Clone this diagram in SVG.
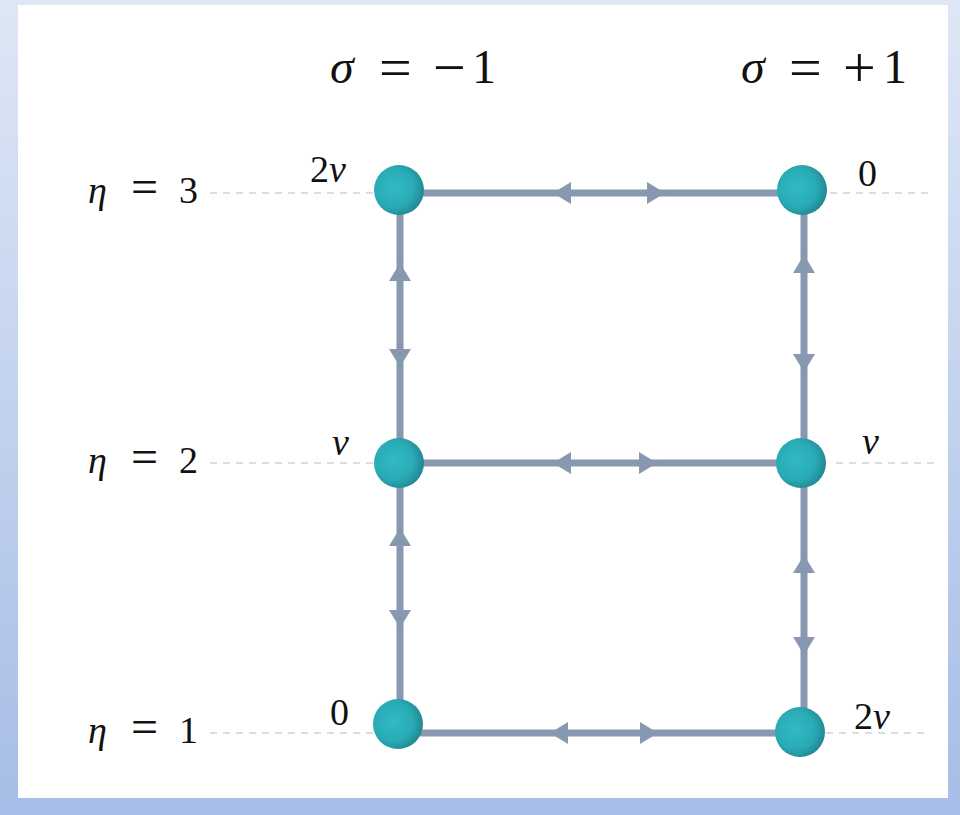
<svg xmlns="http://www.w3.org/2000/svg" width="960" height="815" viewBox="0 0 960 815">
<style>
.math{font-family:"Liberation Serif","DejaVu Serif",serif;fill:#111111}
.it{font-style:italic}
.lbl{font-size:48px}
.op{font-size:58px}
.eta{font-size:38px}
.eop{font-size:48px}
.nl{font-size:38px}
.edge{stroke:#8798B0;stroke-width:7;fill:none}
.dash{stroke:#D0D3D8;stroke-width:1.5;stroke-dasharray:7,6;fill:none}
.ah{fill:#8798B0}
.node{fill:url(#ng)}
</style>
<defs>
<linearGradient id="bg" x1="0" y1="0" x2="0" y2="1">
<stop offset="0" stop-color="#DEE7F5"/>
<stop offset="1" stop-color="#A7BDE7"/>
</linearGradient>
<radialGradient id="ng" cx="0.4" cy="0.45" r="0.65">
<stop offset="0" stop-color="#31BAC2"/>
<stop offset="0.6" stop-color="#29ABB5"/>
<stop offset="1" stop-color="#21808B"/>
</radialGradient>
<polygon id="ar" points="0,0 18,-11 18,11"/>
</defs>
<rect x="0" y="0" width="960" height="815" fill="url(#bg)"/>
<rect x="18" y="5" width="930" height="793" fill="#FFFFFF"/>

<g id="headers">
<text class="math lbl" y="83"><tspan class="it" x="330">σ</tspan><tspan class="op" x="379" y="87">=</tspan><tspan class="op" x="433" y="87">−</tspan><tspan x="472" y="83">1</tspan></text>
<text class="math lbl" y="83"><tspan class="it" x="741">σ</tspan><tspan class="op" x="789" y="87">=</tspan><tspan class="op" x="843" y="87">+</tspan><tspan x="883" y="83">1</tspan></text>
</g>

<g id="row-labels">
<text class="math eta" y="203"><tspan class="it" x="88">η</tspan><tspan class="eop" x="131">=</tspan><tspan x="179">3</tspan></text>
<text class="math eta" y="473"><tspan class="it" x="88">η</tspan><tspan class="eop" x="131">=</tspan><tspan x="179">2</tspan></text>
<text class="math eta" y="743"><tspan class="it" x="88">η</tspan><tspan class="eop" x="131">=</tspan><tspan x="179">1</tspan></text>
</g>

<g id="guides">
<line class="dash" x1="210" y1="193" x2="376" y2="193"/>
<line class="dash" x1="830" y1="193" x2="930" y2="193"/>
<line class="dash" x1="210" y1="463" x2="376" y2="463"/>
<line class="dash" x1="836" y1="463" x2="940" y2="463"/>
<line class="dash" x1="210" y1="733" x2="376" y2="733"/>
<line class="dash" x1="826" y1="733" x2="928" y2="733"/>
</g>

<g id="connectors">
<line class="edge" x1="400" y1="193" x2="804" y2="193"/>
<line class="edge" x1="400" y1="463" x2="804" y2="463"/>
<line class="edge" x1="400" y1="733" x2="804" y2="733"/>
<line class="edge" x1="400" y1="190" x2="400" y2="733"/>
<line class="edge" x1="804" y1="190" x2="804" y2="733"/>
<use href="#ar" class="ah" transform="translate(553,193)"/>
<use href="#ar" class="ah" transform="translate(665,193) rotate(180)"/>
<use href="#ar" class="ah" transform="translate(553,463)"/>
<use href="#ar" class="ah" transform="translate(657,463) rotate(180)"/>
<use href="#ar" class="ah" transform="translate(550,733)"/>
<use href="#ar" class="ah" transform="translate(658,733) rotate(180)"/>
<use href="#ar" class="ah" transform="translate(400,263) rotate(90)"/>
<use href="#ar" class="ah" transform="translate(400,367) rotate(-90)"/>
<use href="#ar" class="ah" transform="translate(400,528) rotate(90)"/>
<use href="#ar" class="ah" transform="translate(400,628) rotate(-90)"/>
<use href="#ar" class="ah" transform="translate(804,255) rotate(90)"/>
<use href="#ar" class="ah" transform="translate(804,372) rotate(-90)"/>
<use href="#ar" class="ah" transform="translate(804,555) rotate(90)"/>
<use href="#ar" class="ah" transform="translate(804,655) rotate(-90)"/>
</g>

<g id="n-m1-3"><circle class="node" cx="399" cy="190" r="25"/><text class="math nl" y="182"><tspan x="310">2</tspan><tspan class="it">ν</tspan></text></g>
<g id="n-p1-3"><circle class="node" cx="802" cy="190" r="25"/><text class="math nl" x="858" y="186">0</text></g>
<g id="n-m1-2"><circle class="node" cx="399" cy="463" r="25"/><text class="math nl it" x="332" y="455">ν</text></g>
<g id="n-p1-2"><circle class="node" cx="801" cy="463" r="25"/><text class="math nl it" x="862" y="454">ν</text></g>
<g id="n-m1-1"><circle class="node" cx="398" cy="724" r="25"/><text class="math nl" x="330" y="725">0</text></g>
<g id="n-p1-1"><circle class="node" cx="800" cy="732" r="25"/><text class="math nl" y="729"><tspan x="854">2</tspan><tspan class="it">ν</tspan></text></g>
</svg>
